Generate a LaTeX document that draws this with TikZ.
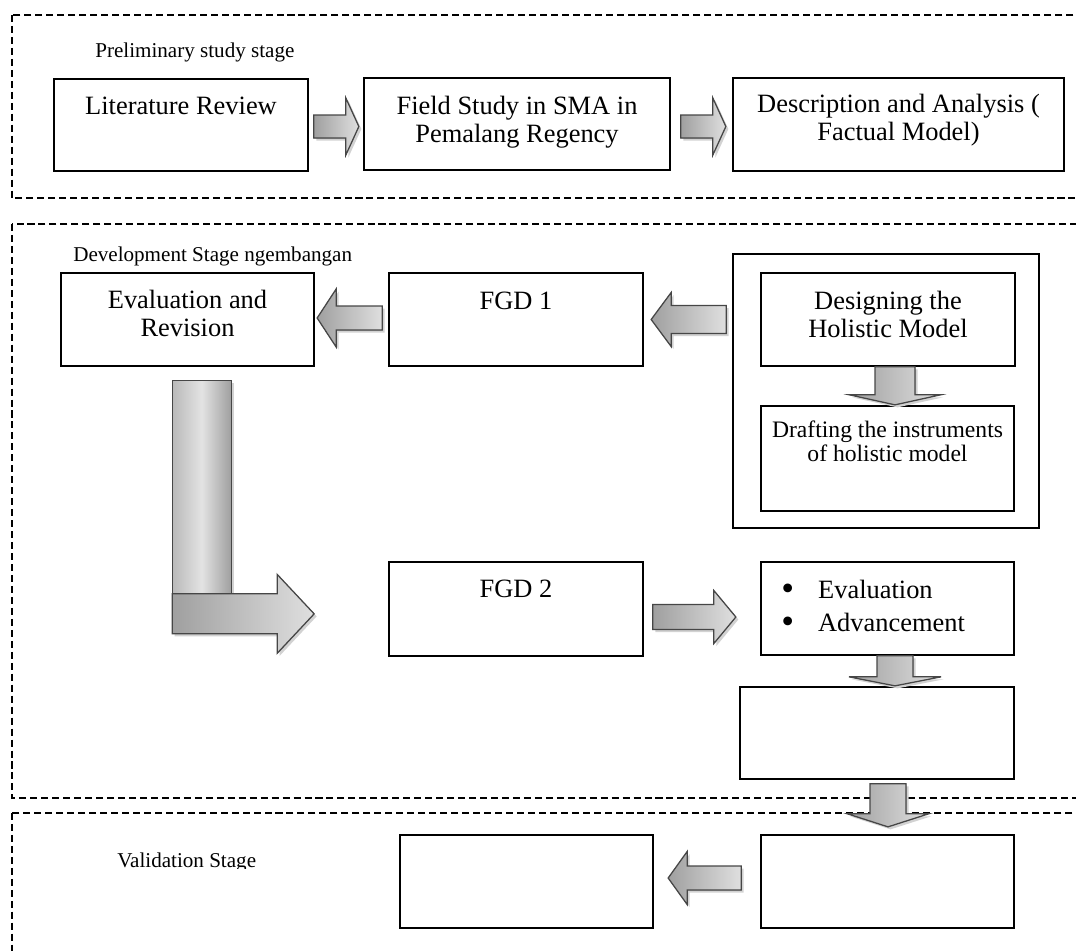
\documentclass[tikz,border=0pt]{standalone}
\usepackage{fontspec}
\setmainfont{Liberation Serif}
\usetikzlibrary{calc,fit}

% block arrow outline: length, shaft half width, head half width, head length
\newcommand\arrowpath[4]{(0,-#2) -- ({#1-#4},-#2) -- ({#1-#4},-#3) -- (#1,0) -- ({#1-#4},#3) -- ({#1-#4},#2) -- (0,#2) -- cycle}
% tail point, angle, then the four sizes
\newcommand\blockarrow[6]{%
  \begin{scope}[shift={#1}]
    \fill[gray!35, shift={(2.5,2.5)}, rotate=#2] \arrowpath{#3}{#4}{#5}{#6};
    \filldraw[barrow, rotate=#2] \arrowpath{#3}{#4}{#5}{#6};
  \end{scope}}
\newcommand\bigbullet{\raisebox{-1.8pt}{\fontsize{26}{20}\selectfont\textbullet}}

\tikzset{
  frame/.style={line width=0.9pt, dash pattern=on 5pt off 2.8pt},
  box/.style={draw, line width=1.2pt, inner sep=0pt},
  txt/.style={font=\fontsize{18.8}{20}\selectfont, align=center, inner sep=0pt, anchor=base},
  smalltxt/.style={font=\fontsize{16.8}{17.1}\selectfont, align=center, inner sep=0pt, anchor=base},
  lbl/.style={font=\fontsize{15}{17}\selectfont, inner sep=0pt, anchor=base west},
  barrow/.style={draw=gray!55!black, line width=0.9pt, left color=gray!75, right color=gray!25},
  lbar/.style={draw=gray!55!black, line width=0.9pt, left color=gray!55, right color=gray!75, middle color=gray!22}
}

\begin{document}
\begin{tikzpicture}[x=0.025cm, y=-0.025cm]
  \clip (0,0) rectangle (1076,950);
  %Stages
  \draw[frame] (12,15) rectangle (1100,198);
  \draw[frame] (12,224) rectangle (1100,798);
  \draw[frame] (12,813) rectangle (1100,990);
  \node[lbl] (prelim) at (95,57) {Preliminary study stage};
  \node[lbl] (develop) at (73,261) {Development Stage ngembangan};
  \begin{scope}
    \clip (100,830) rectangle (300,868);
    \node[lbl] (valid) at (117,867) {Validation Stage};
  \end{scope}

  %Preliminary study
  \node[box, fit={(54,79) (308,171)}] (lit) {};
  \node[box, fit={(364,78) (670,170)}] (field) {};
  \node[box, fit={(733,78) (1064,171)}] (desc) {};
  \node[txt] (litT) at ($(lit.north)+(0,36)$) {Literature Review};
  \node[txt] (fieldT) at ($(field.north)+(0,65)$) {Field Study in SMA in\\Pemalang Regency};
  \node[txt] (descT) at ($(desc.north)+(0,63)$) {Description and Analysis (\\Factual Model)};
  \blockarrow{($(lit.east)+(5,1.5)$)}{0}{45}{11.5}{28.5}{13}
  \blockarrow{($(field.east)+(10,2.5)$)}{0}{45}{11.5}{28.5}{13}

  %Development
  \node[box, fit={(61,273) (314,366)}] (eval) {};
  \node[box, fit={(389,273) (643,366)}] (fgdA) {};
  \node[box, fit={(733,254) (1039,528)}] (holder) {};
  \node[box, fit={(761,273) (1015,366)}] (design) {};
  \node[box, fit={(761,406) (1014,511)}] (draft) {};
  \node[box, fit={(389,562) (643,656)}] (fgdB) {};
  \node[box, fit={(761,562) (1014,655)}] (advance) {};
  \node[box, fit={(740,687) (1014,779)}] (blank) {};
  \node[txt] (evalT) at ($(eval.north)+(0,64)$) {Evaluation and\\Revision};
  \node[txt] (fgdAT) at ($(fgdA.north)+(0,37)$) {FGD 1};
  \node[txt] (designT) at ($(design.north)+(0,65)$) {Designing the\\Holistic Model};
  \node[smalltxt] (draftT) at ($(draft.north)+(0,56)$) {Drafting the instruments\\of holistic model};
  \node[txt] (fgdBT) at ($(fgdB.north)+(0,36)$) {FGD 2};
  \node[txt, align=left, anchor=base west, font=\fontsize{18.8}{23.5}\selectfont] (advanceT)
    at ($(advance.north west)+(21,70)$) {\bigbullet\hspace{17pt}Evaluation\\\bigbullet\hspace{17pt}Advancement};
  \blockarrow{($(fgdA.west)+(-6,-1.5)$)}{180}{65}{12}{29}{19}
  \blockarrow{($(design.west)+(-34,0)$)}{180}{75}{14}{27}{20}
  \blockarrow{($(design.south)+(7,0)$)}{-90}{38}{20}{45.5}{10}
  \blockarrow{($(fgdB.east)+(9,8)$)}{0}{83}{12.5}{26.5}{22}
  \blockarrow{($(advance.south)+(7.5,0)$)}{-90}{30}{18}{46}{9}
  \blockarrow{($(blank.south)+(11,4)$)}{-90}{43}{18}{40.5}{13}
  %L arrow
  \coordinate (ltop) at ($(eval.south west)+(112,14)$);
  \fill[gray!35] ($(ltop)+(2.5,2.5)$) rectangle +(59,213);
  \draw[lbar] (ltop) rectangle +(59,213);
  \blockarrow{($(ltop)+(0,233)$)}{0}{142}{20}{39.5}{37}

  %Validation
  \node[box, fit={(400,835) (653,928)}] (valL) {};
  \node[box, fit={(761,835) (1014,928)}] (valR) {};
  \blockarrow{($(valR.west)+(-19,-3.5)$)}{180}{73}{12}{26.5}{19}
\end{tikzpicture}
\end{document}
